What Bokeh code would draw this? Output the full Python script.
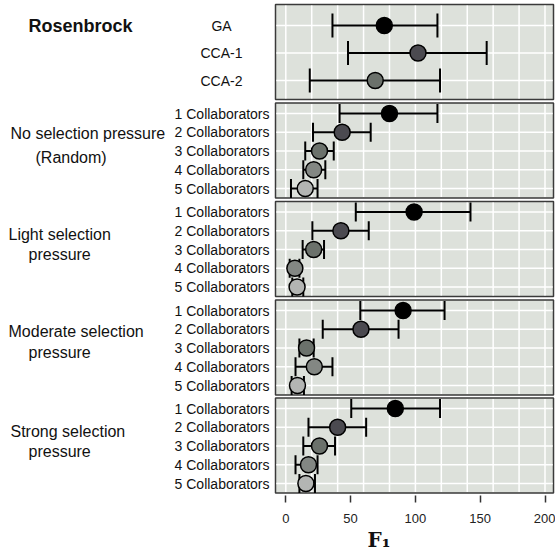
from bokeh.plotting import figure
from bokeh.models import Range1d, FixedTicker, Label, Title
from bokeh.embed import file_html
from bokeh.resources import INLINE

# ---------------- data ----------------
title_text = "Rosenbrock"
top_labels = ["GA", "CCA-1", "CCA-2"]
top_mean = [76, 102, 69]
top_lo = [36, 48, 18.5]
top_hi = [117, 155, 119]

collab_labels = ["1 Collaborators", "2 Collaborators", "3 Collaborators",
                 "4 Collaborators", "5 Collaborators"]

group_line1 = ["No selection pressure", "Light selection", "Moderate selection", "Strong selection"]
group_line2 = ["(Random)", "pressure", "pressure", "pressure"]

no_mean = [80, 43.5, 26, 21.5, 15]
no_lo = [41.5, 21, 15, 13.5, 4]
no_hi = [117, 65.5, 37, 30.5, 24.5]

light_mean = [99, 42.5, 21.5, 7, 8.7]
light_lo = [54, 20.5, 13, 3, 5]
light_hi = [142.5, 64, 29.5, 10.5, 13.5]

mod_mean = [90.5, 58, 16, 22, 9]
mod_lo = [57.5, 28.5, 10.5, 7.5, 4.5]
mod_hi = [122.5, 87, 21.5, 36, 14]

strong_mean = [84.5, 40, 26, 17.5, 15.5]
strong_lo = [50.5, 17.5, 13.5, 7.5, 10.5]
strong_hi = [119, 62, 38, 24.5, 22.5]

x_ticks = [0, 50, 100, 150, 200]
x_label = "F\u2081"

# ---------------- styles / layout ----------------
row_colors = ["#000000", "#4b4a50", "#6b716b", "#838783", "#b3b5b3"]
panel_fill = "#dde1db"
panel_line = "#3a3a3a"
FONT = "Liberation Sans"
TXT = "#111111"

W, H = 555, 552
X0_PX, X_SCALE = 285.3, 1.296          # screen px of x=0, px per unit


def sx(px):
    """screen x (px) -> data x"""
    return (px - X0_PX) / X_SCALE


panels = [
    (top_labels, top_mean, top_lo, top_hi),
    (collab_labels, no_mean, no_lo, no_hi),
    (collab_labels, light_mean, light_lo, light_hi),
    (collab_labels, mod_mean, mod_lo, mod_hi),
    (collab_labels, strong_mean, strong_lo, strong_hi),
]
panel_tops = [4, 102.5, 201, 299.5, 397.5]
panel_h = 95
PL, PR = sx(275), sx(553)

p = figure(width=W, height=H, output_backend="svg", toolbar_location=None,
           x_range=Range1d(sx(0), sx(W)), y_range=Range1d(495, 0),
           min_border_left=0, min_border_right=0, min_border_top=0,
           min_border_bottom=57)
p.outline_line_color = None
p.xgrid.visible = False
p.ygrid.visible = False
p.yaxis.visible = False
p.background_fill_color = "white"
p.border_fill_color = "white"

ax = p.xaxis[0]
ax.ticker = FixedTicker(ticks=x_ticks)
ax.axis_line_color = None
ax.major_tick_in = 0
ax.major_tick_out = 7
ax.major_tick_line_color = "#333333"
ax.major_tick_line_width = 1.5
ax.minor_tick_line_color = None
ax.major_label_text_font = FONT
ax.major_label_text_font_size = "13px"
ax.major_label_text_color = "#222222"
ax.major_label_standoff = 11

p.add_layout(Title(text=x_label, align="left", offset=367, standoff=0,
                   text_font="DejaVu Serif", text_font_style="bold",
                   text_font_size="20px", text_color=TXT), "below")

group_pos = [((10, 133), (35, 157)), ((8, 234), (28, 254)),
             ((8, 331), (28, 352)), ((10, 431), (28, 451))]


def add_text(x, y, txt, align, size, style="normal"):
    p.add_layout(Label(x=x, y=y, text=txt, text_align=align, text_baseline="middle",
                       text_font=FONT, text_font_size=size, text_font_style=style,
                       text_color=TXT))


for k, (labels, mean, lo, hi) in enumerate(panels):
    top = panel_tops[k]
    bot = top + panel_h
    n = len(mean)
    if k == 0:
        rows = [top + 21 + i * 27.5 for i in range(n)]
        cap = 12
    else:
        rows = [top + 10.5 + i * 18.75 for i in range(n)]
        cap = 9.5
    p.quad(left=PL, right=PR, top=top, bottom=bot, fill_color=panel_fill,
           line_color=panel_line, line_width=1.5)
    gx = list(range(0, 201, 20))
    p.segment(x0=gx, x1=gx, y0=[top + 1] * len(gx), y1=[bot - 1] * len(gx),
              line_color="white", line_width=1.5)
    p.segment(x0=[PL + 0.6] * n, x1=[PR - 0.6] * n, y0=rows, y1=rows,
              line_color="white", line_width=1.5)
    # error bars
    p.segment(x0=lo, x1=hi, y0=rows, y1=rows, line_color="black", line_width=2)
    p.segment(x0=lo, x1=lo, y0=[r - cap for r in rows], y1=[r + cap for r in rows],
              line_color="black", line_width=2)
    p.segment(x0=hi, x1=hi, y0=[r - cap for r in rows], y1=[r + cap for r in rows],
              line_color="black", line_width=2)
    p.scatter(x=mean, y=rows, size=16, fill_color=row_colors[:n],
              line_color="black", line_width=1.5)
    # row labels
    for i, txt in enumerate(labels):
        if k == 0:
            add_text(sx(221), rows[i], txt, "center", "14px")
        else:
            add_text(sx(269), rows[i], txt, "right", "14px")
    if k > 0:
        g = k - 1
        (ax1, ay1), (ax2, ay2) = group_pos[g]
        add_text(sx(ax1), ay1, group_line1[g], "left", "16px")
        add_text(sx(ax2), ay2, group_line2[g], "left", "16px")

add_text(sx(28), 25, title_text, "left", "18px", "bold")

open("out.html", "w").write(file_html(p, INLINE))
